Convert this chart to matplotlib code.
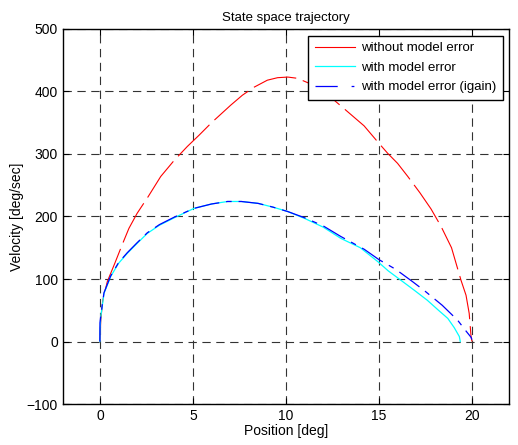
import numpy as np
import matplotlib.pyplot as plt
from matplotlib.lines import Line2D

plt.rcParams['font.family'] = ['Liberation Sans', 'DejaVu Sans']
plt.rcParams['lines.scale_dashes'] = False

# trajectory without model error
pos_nom = [0, 0.05, 0.15, 0.4, 0.8, 1.2, 1.56, 2.0, 2.6, 3.27, 4.0, 4.7, 5.33, 6.0,
           7.03, 7.66, 8.3, 9.0, 9.55, 10.1, 10.62, 11.25, 12.2, 13.3, 14.2, 15.0,
           15.47, 16.0, 16.55, 17.2, 17.8, 18.34, 18.9, 19.41, 19.68, 19.85, 19.95, 20.0]
vel_nom = [0, 35, 65, 96, 125, 155, 181, 205, 232, 264, 290, 312, 330, 350,
           378, 394, 407, 418, 422, 423, 421, 413, 396, 368, 345, 317,
           301, 285, 264, 238, 212, 184, 150, 98, 74, 45, 8, 0]

# trajectory with model error
pos_err = [0, 0.01, 0.05, 0.22, 0.58, 1.0, 1.47, 2.0, 2.55, 3.2, 4.0, 5.06, 6.0,
           6.86, 7.6, 8.5, 9.3, 10.09, 11.0, 12.0, 12.95, 14.0, 14.93, 15.5,
           16.18, 16.9, 17.6, 18.2, 18.7, 19.05, 19.32, 19.37]
vel_err = [0, 20, 40, 77, 104, 125, 141, 157, 173, 186, 198, 213, 220,
           224, 224, 221, 215, 208, 197, 183, 165, 150, 128, 113,
           98, 82, 66, 50, 37, 22, 8, 0]

# trajectory with model error (igain)
pos_ig = [0, 0.005, 0.05, 0.22, 0.58, 1.0, 1.47, 2.0, 2.55, 3.2, 4.0, 5.06, 6.0,
          6.86, 7.6, 8.5, 9.3, 10.09, 11.0, 12.0, 12.95, 14.21, 15.0, 15.9,
          16.81, 17.5, 18.4, 19.23, 19.7, 19.95, 20.0]
vel_ig = [0, 30, 42, 78, 105, 126, 142, 158, 174, 187, 199, 213, 220,
          224, 224, 221, 215, 208, 198, 185, 168, 147.5, 131, 115.5,
          95.7, 80, 58, 34, 16, 6.8, 3]

fig = plt.figure(figsize=(5.18, 4.45), dpi=100)
ax = fig.add_axes([0.121, 0.092, 0.862, 0.843])

ax.plot(pos_nom, vel_nom, color='red', lw=0.8, linestyle=(0, (32, 5)))
ax.plot(pos_err, vel_err, color='cyan', lw=0.9)
ax.plot(pos_ig, vel_ig, color='blue', lw=0.9, linestyle=(0, (18, 5, 4, 5)))

ax.set_xlim(-2, 22)
ax.set_ylim(-100, 500)
ax.set_xticks([0, 5, 10, 15, 20])
ax.set_yticks([-100, 0, 100, 200, 300, 400, 500])
ax.grid(True, color='#333333', linestyle=(0, (6, 4)), lw=0.8)
ax.tick_params(direction='in', top=True, right=True, length=4, labelsize=10, width=0.8)
for s in ax.spines.values():
    s.set_linewidth(1.0)

ax.set_title('State space trajectory', fontsize=9.5, pad=6)
ax.set_xlabel('Position [deg]', fontsize=10, labelpad=1)
ax.set_ylabel('Velocity [deg/sec]', fontsize=10, labelpad=2)

handles = [
    Line2D([], [], color='red', lw=0.8),
    Line2D([], [], color='cyan', lw=0.9),
    Line2D([], [], color='blue', lw=0.9, linestyle=(0, (16, 10, 2, 2))),
]
labels = ['without model error', 'with model error', 'with model error (igain)']
leg = ax.legend(handles, labels, loc='upper right', fontsize=9.5, fancybox=False,
                framealpha=1, edgecolor='black', handlelength=3.1,
                borderaxespad=0.5, labelspacing=0.55, handletextpad=0.4,
                borderpad=0.5)
leg.get_frame().set_linewidth(1.0)

plt.savefig('out.png', dpi=100)
